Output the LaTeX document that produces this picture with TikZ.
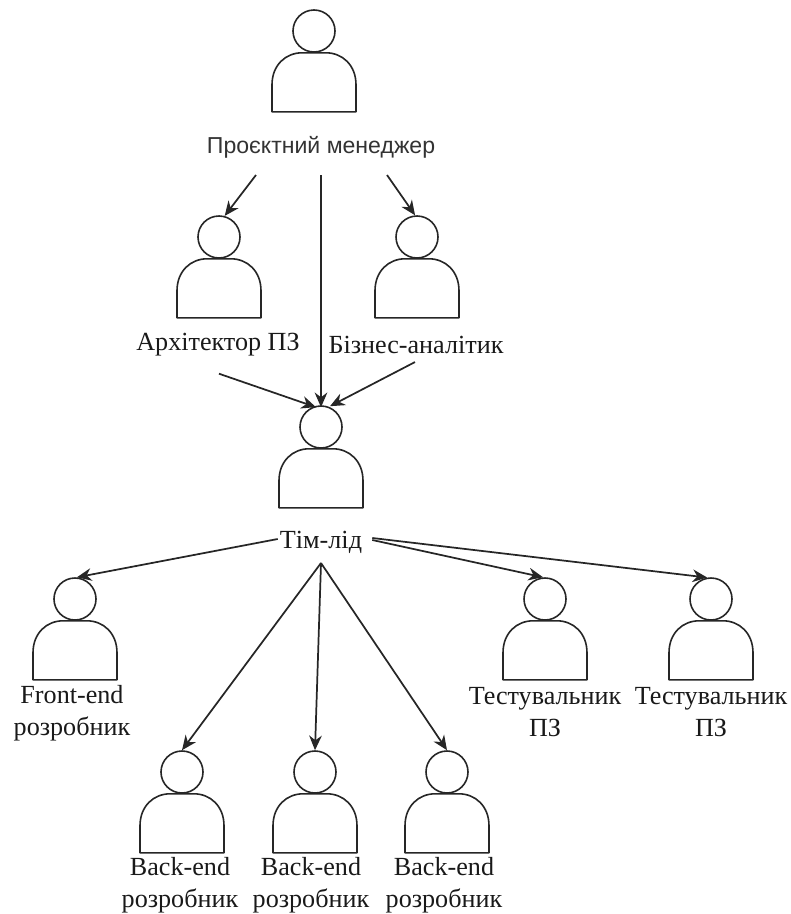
\documentclass[tikz,border=0pt]{standalone}
\usepackage{fontspec}
\setmainfont{Liberation Serif}
\newfontfamily\pmfont{Liberation Sans}
\usetikzlibrary{arrows.meta,calc}
\tikzset{
  headnode/.style={circle,draw=black!85,line width=1.2pt,minimum size=31.5pt,inner sep=0pt},
  bodyline/.style={draw=black!85,line width=1.2pt,line join=round},
  rolelabel/.style={font=\fontsize{19.6}{24}\selectfont,text=black!90,align=center,inner sep=0pt},
  pmlabel/.style={font=\pmfont\fontsize{17.3}{20}\selectfont,text=black!80,inner sep=0pt},
  link/.style={draw=black!85,line width=1.3pt,-{Stealth[length=11pt,width=9.5pt]}}
}
\newcommand{\actorfig}[3]{%
  \node[headnode] (#1) at (#2,#3) {};
  \begin{scope}[shift={(#1.south)}]
    \draw[bodyline] (-42,59) -- (-42,32) .. controls (-42,12) and (-28,0) .. (-12,0) -- (12,0)
      .. controls (28,0) and (42,12) .. (42,32) -- (42,59) -- cycle;
  \end{scope}}
\begin{document}
\begin{tikzpicture}[x=0.75pt,y=-0.75pt]
\useasboundingbox (0,0) rectangle (791,914);
\actorfig{pmh}{314}{31}
\actorfig{arh}{219}{237}
\actorfig{bah}{417}{237}
\actorfig{tlh}{321}{427}
\actorfig{feh}{75}{599}
\actorfig{tah}{545}{599}
\actorfig{tbh}{711}{599}
\actorfig{bxh}{182}{772}
\actorfig{byh}{315}{772}
\actorfig{bzh}{447}{772}
\node[pmlabel] (pm) at (321,147) {Проєктний менеджер};
\node[rolelabel] (ar) at (218,345) {Архітектор ПЗ};
\node[rolelabel] (ba) at (416,345) {Бізнес-аналітик};
\node[rolelabel] (tl) at (321,542) {Тім-лід};
\node[rolelabel] (fe) at (72,713) {Front-end\\розробник};
\node[rolelabel] (ta) at (545,712) {Тестувальник\\ПЗ};
\node[rolelabel] (tb) at (711,712) {Тестувальник\\ПЗ};
\node[rolelabel] (bx) at (180,885) {Back-end\\розробник};
\node[rolelabel] (by) at (311,885) {Back-end\\розробник};
\node[rolelabel] (bz) at (444,885) {Back-end\\розробник};
\coordinate (pmbot) at (321,175);
\coordinate (tlbot) at (321,563);
\draw[link] ($(pmbot)+(-65,0)$) -- (arh.75);
\draw[link] (pmbot) -- ($(tlh.north -| pmbot)+(0,2)$);
\draw[link] ($(pmbot)+(66,0)$) -- (bah.95);
\draw[link] ($(ar.south)+(1,17)$) -- ($(tlh.north)+(-5,2)$);
\draw[link] ($(ba.south)+(-1,8)$) -- ($(tlh.north)+(9,1)$);
\draw[link] ($(tl.west)+(-2,-3)$) -- (feh.85);
\draw[link] ($(tl.east)+(10,-2)$) -- (tah.95);
\draw[link] ($(tl.east)+(10,-4)$) -- (tbh.100);
\draw[link] (tlbot) -- (bxh.north);
\draw[link] (tlbot) -- (byh.north);
\draw[link] (tlbot) -- (bzh.north);
\end{tikzpicture}
\end{document}
